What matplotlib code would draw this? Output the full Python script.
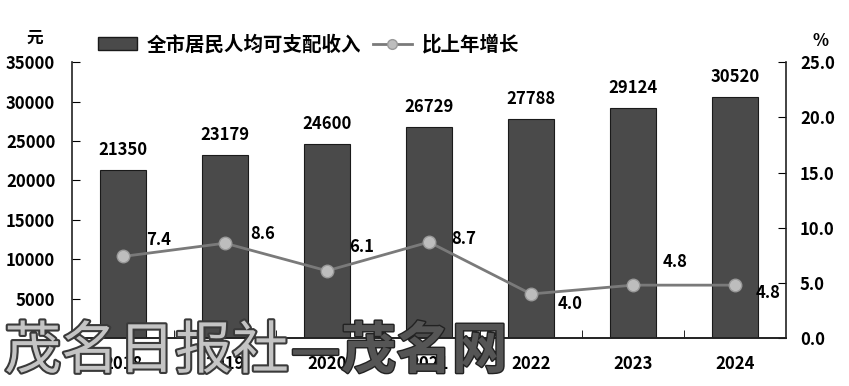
import matplotlib.pyplot as plt
import matplotlib.patheffects as pe
from matplotlib.lines import Line2D
from matplotlib.patches import Patch

plt.rcParams['font.family'] = ['Noto Sans CJK SC', 'DejaVu Sans']
plt.rcParams['font.weight'] = 'bold'

years = ['2018', '2019', '2020', '2021', '2022', '2023', '2024']
income = [21350, 23179, 24600, 26729, 27788, 29124, 30520]
growth = [7.4, 8.6, 6.1, 8.7, 4.0, 4.8, 4.8]
# label offsets for the growth labels (points)
growth_off = [(17, 11.5), (18, 6.5), (16, 17), (16, 2), (19, -7), (21, 17), (15, -6)]

fig = plt.figure(figsize=(8.49, 3.86), dpi=100)
ax = fig.add_axes([0.0848, 0.124, 0.841, 0.715])
ax2 = ax.twinx()

x = range(len(years))
ax.bar(x, income, width=0.45, color='#4a4a4a', edgecolor='#1a1a1a', linewidth=0.8)
for xi, v in zip(x, income):
    ax.annotate(str(v), (xi, v), xytext=(0, 8), textcoords='offset points',
                ha='center', va='bottom', fontsize=12, fontweight='bold')

ax2.plot(x, growth, color='#7a7a7a', linewidth=2, marker='o', markersize=9,
         markerfacecolor='#bdbdbd', markeredgecolor='#9a9a9a', zorder=5)
for xi, v, off in zip(x, growth, growth_off):
    ax2.annotate(f'{v:.1f}', (xi, v), xytext=off, textcoords='offset points',
                 ha='left', va='center', fontsize=12, fontweight='bold')

ax.set_xlim(-0.5, len(years) - 0.5)
ax.set_ylim(0, 35000)
ax.set_yticks(range(5000, 35001, 5000))
ax2.set_ylim(0, 25)
ax2.set_yticks([0, 5, 10, 15, 20, 25])
ax2.set_yticklabels([f'{t:.1f}' for t in [0, 5, 10, 15, 20, 25]])

ax.set_xticks(list(x))
ax.set_xticklabels(years)
ax.set_xticks([i + 0.5 for i in range(len(years) - 1)], minor=True)
ax.tick_params(axis='x', which='major', length=0, pad=12, labelsize=12)
ax.tick_params(axis='x', which='minor', direction='in', length=6)
ax.tick_params(axis='y', direction='in', length=6, labelsize=12, pad=12)
ax2.tick_params(axis='y', direction='in', length=6, labelsize=12, pad=10)

for a in (ax, ax2):
    a.spines['top'].set_visible(False)
    for s in ('left', 'right', 'bottom'):
        a.spines[s].set_color('#222222')
        a.spines[s].set_linewidth(1.2)
ax.spines['right'].set_visible(False)
ax2.spines['left'].set_visible(False)

fig.text(0.041, 0.89, '元', fontsize=12, fontweight='bold', ha='center')
fig.text(0.966, 0.88, '%', fontsize=12, fontweight='bold', ha='center')

handles = [Patch(facecolor='#4a4a4a', edgecolor='#1a1a1a'),
           Line2D([], [], color='#7a7a7a', linewidth=2, marker='o', markersize=7,
                  markerfacecolor='#bdbdbd', markeredgecolor='#9a9a9a')]
fig.legend(handles, ['全市居民人均可支配收入', '比上年增长'], loc='center left',
           bbox_to_anchor=(0.095, 0.885), ncol=2, frameon=False,
           handlelength=2.0, handletextpad=0.5, columnspacing=0.6,
           prop={'weight': 'bold', 'size': 14})

# watermark
fig.text(0.005, 0.088, '茂名日报社', fontsize=41, color='#c4c4c4', va='center',
         fontweight='normal',
         path_effects=[pe.withStroke(linewidth=3, foreground='#3a3a3a')])
fig.text(0.342, 0.088, '—茂名网', fontsize=40, color='#555555', va='center',
         fontweight='bold',
         path_effects=[pe.withStroke(linewidth=2, foreground='#222222')])

fig.savefig('out.png', dpi=100)
